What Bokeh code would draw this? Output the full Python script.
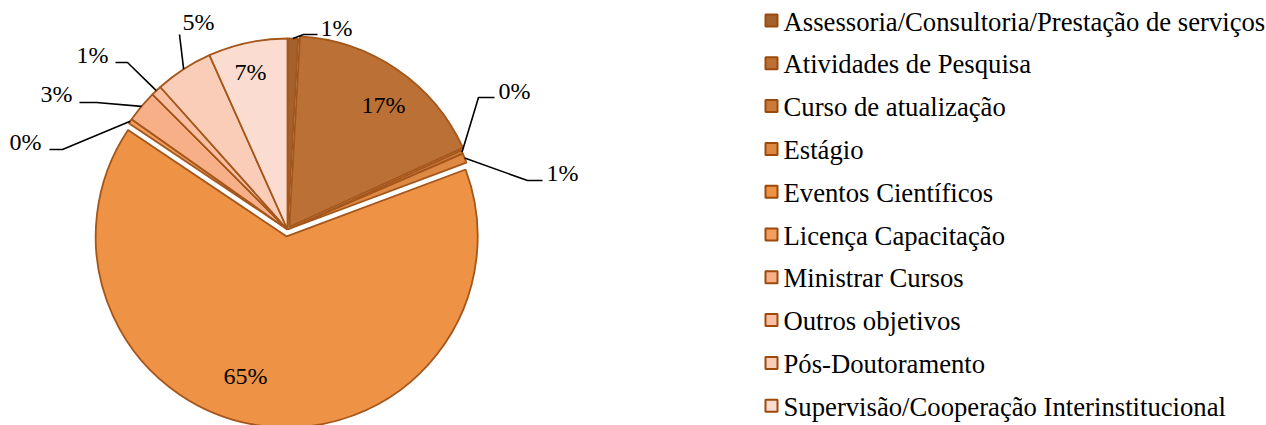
import math
from bokeh.plotting import figure
from bokeh.models import Range1d, ColumnDataSource
from bokeh.core.properties import value
from bokeh.embed import file_html
from bokeh.resources import INLINE

# ---------------- data ----------------
categories = [
    "Assessoria/Consultoria/Prestação de serviços",
    "Atividades de Pesquisa",
    "Curso de atualização",
    "Estágio",
    "Eventos Científicos",
    "Licença Capacitação",
    "Ministrar Cursos",
    "Outros objetivos",
    "Pós-Doutoramento",
    "Supervisão/Cooperação Interinstitucional",
]
percent = [0.9, 17.3, 0.3, 0.8, 65.1, 0.4, 2.7, 0.9, 4.9, 6.7]
labels = ["1%", "17%", "0%", "1%", "65%", "0%", "3%", "1%", "5%", "7%"]

# ---------------- style ----------------
colors = ["#A2612D", "#BB7035", "#CC7A3B", "#DD8843", "#EE9245",
          "#F29E5E", "#F6AF86", "#F8BFA3", "#FACDB8", "#FBDCD0"]
edge_color = "#A5561A"
explode = [0, 3, 0, 0, 7, 0, 0, 0, 0, 0]
FONT = "Liberation Serif"

W, H = 1266, 425


def px(x):  # page x -> data x
    return x


def py(y):  # page y -> data y
    return H - y


CX, CY = px(287), py(229)
R = 191

# label placement (page coordinates): text centre, optional leader (elbow, end)
label_pos = [(336, 27), (383, 104), (514, 90), (562, 172), (245, 375),
             (25, 141), (56, 93), (92, 54), (198, 21), (250, 71)]
leaders = {
    0: [(303, 34), (317, 34)],
    2: [(478, 97), (494, 97)],
    3: [(527, 180), (542, 180)],
    5: [(62, 149), (49, 149)],
    6: [(96, 102), (79, 102)],
    7: [(127, 62), (115, 62)],
    8: [(179, 34), (179, 34)],
}

p = figure(width=W, height=H, output_backend="svg", toolbar_location=None,
           x_range=Range1d(0, W), y_range=Range1d(0, H), min_border=0)
p.axis.visible = False
p.grid.visible = False
p.outline_line_color = None
p.background_fill_color = "white"

total = sum(percent)
cum = 0.0
xs, ys, sa, ea, mids = [], [], [], [], []
for v, e in zip(percent, explode):
    a0 = cum / total * 2 * math.pi
    cum += v
    a1 = cum / total * 2 * math.pi
    m = (a0 + a1) / 2
    mids.append(m)
    xs.append(CX + e * math.sin(m))
    ys.append(CY + e * math.cos(m))
    sa.append(math.pi / 2 - a0)
    ea.append(math.pi / 2 - a1)

src = ColumnDataSource(dict(x=xs, y=ys, sa=sa, ea=ea, color=colors))
p.wedge(x="x", y="y", radius=R, start_angle="sa", end_angle="ea",
        direction="clock", fill_color="color", line_color=edge_color,
        line_width=1.8, source=src)

# leader lines
for i, pts in leaders.items():
    m = mids[i]
    sx = xs[i] + R * math.sin(m)
    sy = ys[i] + R * math.cos(m)
    lx = [sx] + [px(a) for a, b in pts]
    ly = [sy] + [py(b) for a, b in pts]
    p.line(lx, ly, line_color="black", line_width=1.6)

# data labels
p.text(x=[px(a) for a, b in label_pos], y=[py(b) for a, b in label_pos],
       text=labels, text_font=value(FONT), text_font_size="24px",
       text_color="black", text_align="center", text_baseline="middle")

# legend (manual)
LX, LY0, LDY = px(771), py(20), 42.8
ly = [LY0 - i * LDY for i in range(len(categories))]
p.rect(x=[LX] * len(categories), y=ly, width=12, height=12,
       fill_color=colors, line_color="#9C4A0B", line_width=2)
p.text(x=[px(783)] * len(categories), y=[v - 1 for v in ly], text=categories,
       text_font=value(FONT), text_font_size="26.7px", text_color="black",
       text_align="left", text_baseline="middle")

open("out.html", "w").write(file_html(p, INLINE))
